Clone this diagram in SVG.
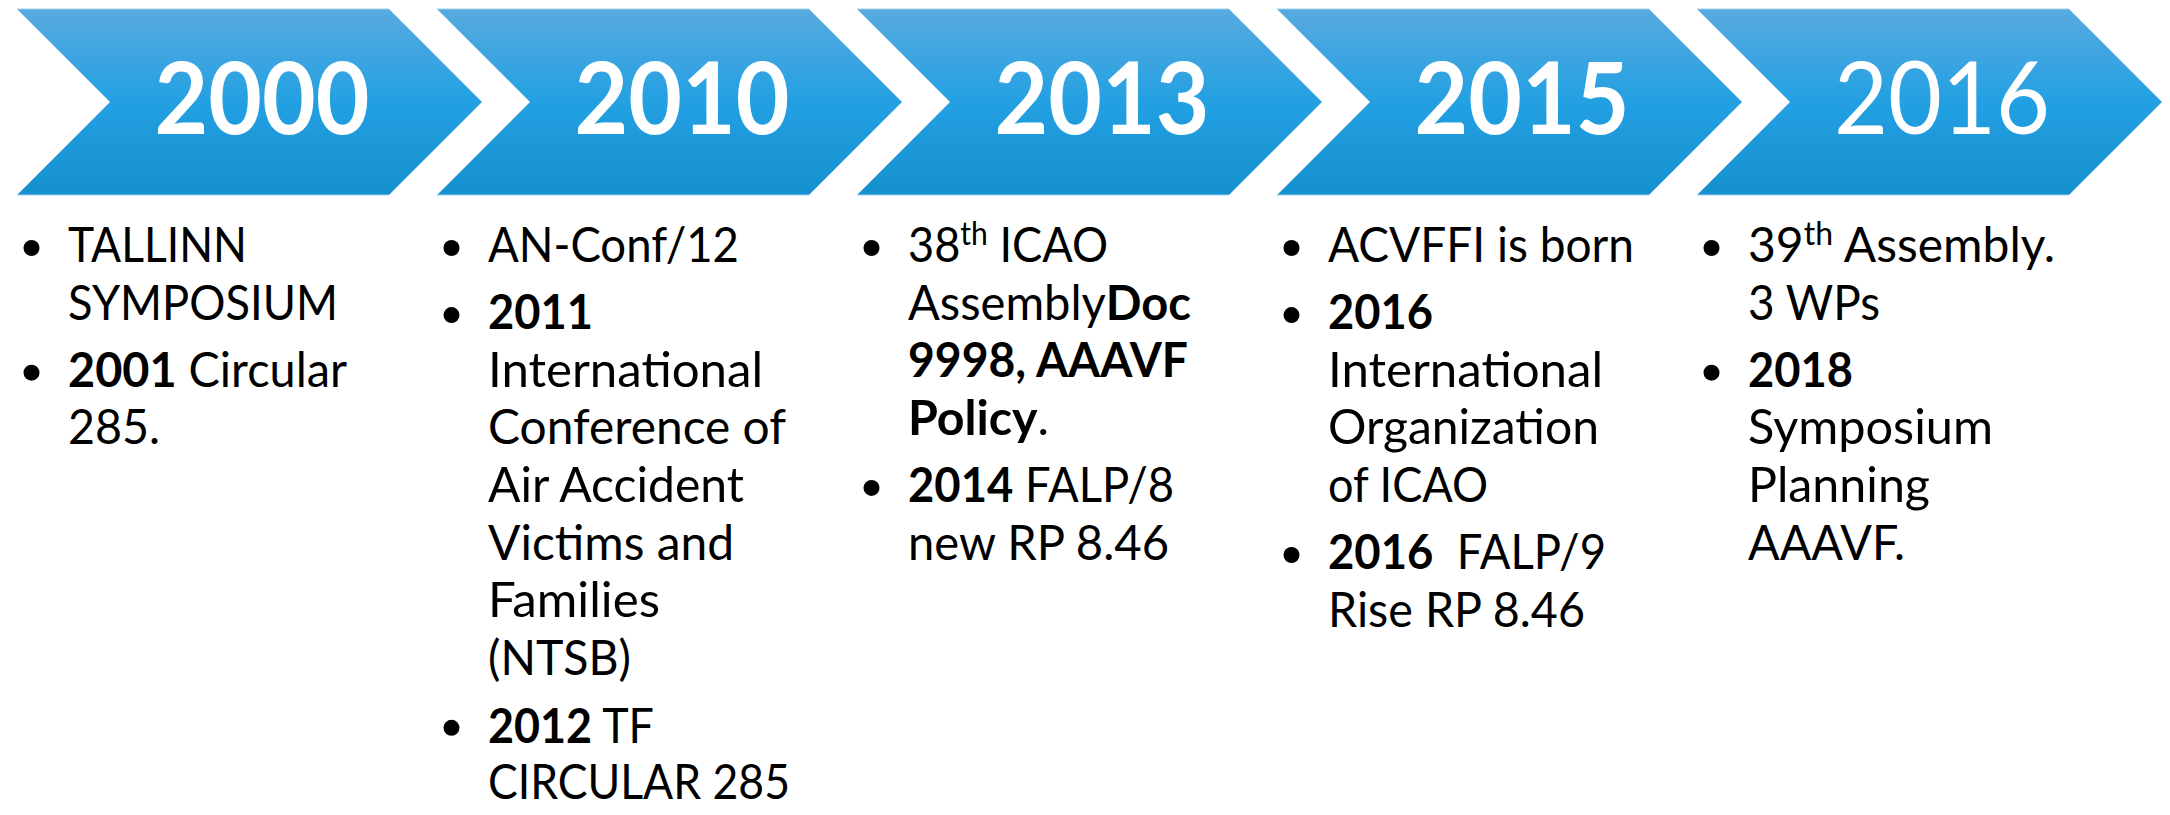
<svg xmlns="http://www.w3.org/2000/svg" width="2170" height="815" viewBox="0 0 2170 815">
<defs>
<linearGradient id="g" x1="0" y1="0" x2="0" y2="1">
<stop offset="0" stop-color="#58aadf"/>
<stop offset="0.5" stop-color="#23a0e2"/>
<stop offset="1" stop-color="#1590cf"/>
</linearGradient>
<style>
.chev{fill:url(#g);stroke:#9fd0ef;stroke-width:1}
.yr{font-family:Lato,"Open Sans",sans-serif;font-size:100px;fill:#fff;text-anchor:middle}
.b{font-weight:700}
.t{font-family:Lato,"Open Sans",sans-serif;font-size:48px;fill:#000}
.sup{font-size:32px}
.dot{fill:#000}
</style>
</defs>
<rect width="2170" height="815" fill="#fff"/>
<g id="connectors"></g>
<g id="n2000">
<polygon class="chev" points="17,9 389,9 482,102 389,195 17,195 110,102"/>
<text class="yr b" x="262" y="134" textLength="215" lengthAdjust="spacingAndGlyphs">2000</text>
<circle class="dot" cx="31.5" cy="248" r="8"/>
<circle class="dot" cx="31.5" cy="372.7" r="8"/>
<text class="t" x="68" y="262" textLength="179" lengthAdjust="spacingAndGlyphs">TALLINN</text>
<text class="t" x="68" y="319.6" textLength="270" lengthAdjust="spacingAndGlyphs">SYMPOSIUM</text>
<text class="t" x="68" y="386.7" textLength="279" lengthAdjust="spacingAndGlyphs"><tspan class="b">2001</tspan> Circular</text>
<text class="t" x="68" y="444.3" textLength="92" lengthAdjust="spacingAndGlyphs">285.</text>
</g>
<g id="n2010">
<polygon class="chev" points="437,9 809,9 902,102 809,195 437,195 530,102"/>
<text class="yr b" x="682" y="134" textLength="215" lengthAdjust="spacingAndGlyphs">2010</text>
<circle class="dot" cx="451.5" cy="248" r="8"/>
<circle class="dot" cx="451.5" cy="315.1" r="8"/>
<circle class="dot" cx="451.5" cy="727.8" r="8"/>
<text class="t" x="488" y="262" textLength="251" lengthAdjust="spacingAndGlyphs">AN-Conf/12</text>
<text class="t b" x="488" y="329.1" textLength="105" lengthAdjust="spacingAndGlyphs">2011</text>
<text class="t" x="488" y="386.7" textLength="275" lengthAdjust="spacingAndGlyphs">International</text>
<text class="t" x="488" y="444.3" textLength="298" lengthAdjust="spacingAndGlyphs">Conference of</text>
<text class="t" x="488" y="501.9" textLength="256" lengthAdjust="spacingAndGlyphs">Air Accident</text>
<text class="t" x="488" y="559.5" textLength="246" lengthAdjust="spacingAndGlyphs">Victims and</text>
<text class="t" x="488" y="617.1" textLength="172" lengthAdjust="spacingAndGlyphs">Families</text>
<text class="t" x="488" y="674.7" textLength="143" lengthAdjust="spacingAndGlyphs">(NTSB)</text>
<text class="t" x="488" y="742.8" textLength="166" lengthAdjust="spacingAndGlyphs"><tspan class="b">2012</tspan> TF</text>
<text class="t" x="488" y="799.4" textLength="302" lengthAdjust="spacingAndGlyphs">CIRCULAR 285</text>
</g>
<g id="n2013">
<polygon class="chev" points="857,9 1229,9 1322,102 1229,195 857,195 950,102"/>
<text class="yr b" x="1102" y="134" textLength="215" lengthAdjust="spacingAndGlyphs">2013</text>
<circle class="dot" cx="871.5" cy="248" r="8"/>
<circle class="dot" cx="871.5" cy="487.9" r="8"/>
<text class="t" x="908" y="262" textLength="200" lengthAdjust="spacingAndGlyphs">38<tspan class="sup" dy="-17">th</tspan><tspan dy="17"> ICAO</tspan></text>
<text class="t" x="908" y="319.6" textLength="283" lengthAdjust="spacingAndGlyphs">Assembly<tspan class="b">Doc</tspan></text>
<text class="t b" x="908" y="377.2" textLength="280" lengthAdjust="spacingAndGlyphs">9998, AAAVF</text>
<text class="t" x="908" y="434.8" textLength="141" lengthAdjust="spacingAndGlyphs"><tspan class="b">Policy</tspan>.</text>
<text class="t" x="908" y="501.9" textLength="266" lengthAdjust="spacingAndGlyphs"><tspan class="b">2014</tspan> FALP/8</text>
<text class="t" x="908" y="559.5" textLength="261" lengthAdjust="spacingAndGlyphs">new RP 8.46</text>
</g>
<g id="n2015">
<polygon class="chev" points="1277,9 1649,9 1742,102 1649,195 1277,195 1370,102"/>
<text class="yr b" x="1522" y="134" textLength="215" lengthAdjust="spacingAndGlyphs">2015</text>
<circle class="dot" cx="1291.5" cy="248" r="8"/>
<circle class="dot" cx="1291.5" cy="315.1" r="8"/>
<circle class="dot" cx="1291.5" cy="555" r="8"/>
<text class="t" x="1328" y="262" textLength="306" lengthAdjust="spacingAndGlyphs">ACVFFI is born</text>
<text class="t b" x="1328" y="329.1" textLength="105" lengthAdjust="spacingAndGlyphs">2016</text>
<text class="t" x="1328" y="386.7" textLength="275" lengthAdjust="spacingAndGlyphs">International</text>
<text class="t" x="1328" y="444.3" textLength="271" lengthAdjust="spacingAndGlyphs">Organization</text>
<text class="t" x="1328" y="501.9" textLength="160" lengthAdjust="spacingAndGlyphs">of ICAO</text>
<text class="t" x="1328" y="569" xml:space="preserve" textLength="278" lengthAdjust="spacingAndGlyphs"><tspan class="b">2016</tspan>  FALP/9</text>
<text class="t" x="1328" y="626.6" textLength="257" lengthAdjust="spacingAndGlyphs">Rise RP 8.46</text>
</g>
<g id="n2016">
<polygon class="chev" points="1697,9 2069,9 2162,102 2069,195 1697,195 1790,102"/>
<text class="yr" x="1942" y="134" textLength="216" lengthAdjust="spacingAndGlyphs">2016</text>
<circle class="dot" cx="1711.5" cy="248" r="8"/>
<circle class="dot" cx="1711.5" cy="372.7" r="8"/>
<text class="t" x="1748" y="262">39<tspan class="sup" dy="-17">th</tspan><tspan dy="17"> Assembly.</tspan></text>
<text class="t" x="1748" y="319.6" textLength="132" lengthAdjust="spacingAndGlyphs">3 WPs</text>
<text class="t b" x="1748" y="386.7" textLength="105" lengthAdjust="spacingAndGlyphs">2018</text>
<text class="t" x="1748" y="444.3" textLength="245" lengthAdjust="spacingAndGlyphs">Symposium</text>
<text class="t" x="1748" y="501.9" textLength="182" lengthAdjust="spacingAndGlyphs">Planning</text>
<text class="t" x="1748" y="559.5" textLength="157" lengthAdjust="spacingAndGlyphs">AAAVF.</text>
</g>
</svg>
